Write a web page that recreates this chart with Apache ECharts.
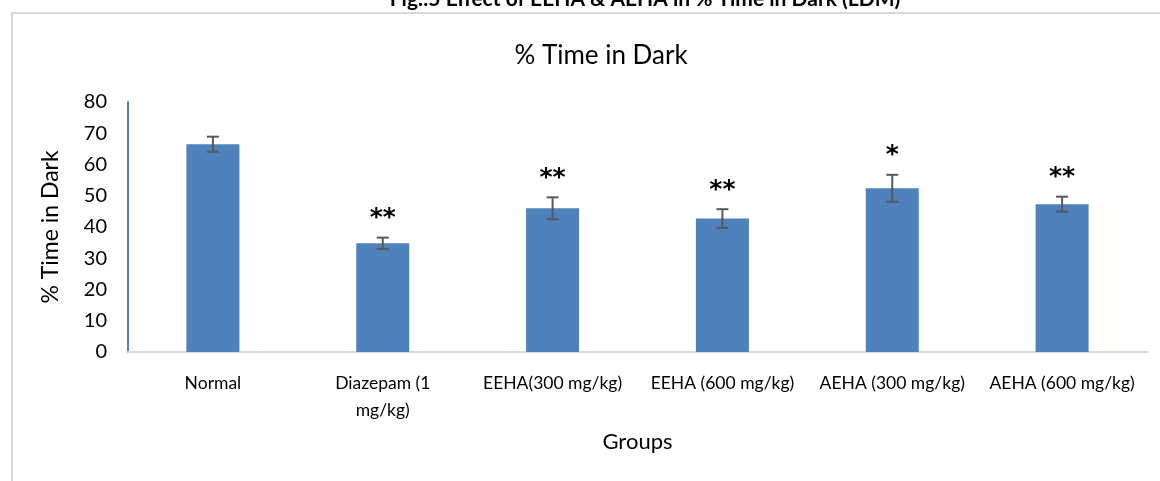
<!DOCTYPE html>
<html>
<head>
<meta charset="utf-8">
<script src="https://cdn.jsdelivr.net/npm/echarts@6/dist/echarts.min.js"></script>
<style>
  html, body { margin: 0; padding: 0; background: #fff; }
  #chart { width: 1160px; height: 481px; }
</style>
</head>
<body>
<div id="chart"></div>
<script>
const groups = [
  "Normal",
  "Diazepam (1\nmg/kg)",
  "EEHA(300 mg/kg)",
  "EEHA (600 mg/kg)",
  "AEHA (300 mg/kg)",
  "AEHA (600 mg/kg)",
];
const timeInDark = [66.5, 34.8, 46.0, 42.7, 52.4, 47.3];
const errors = [2.4, 1.8, 3.5, 3.0, 4.3, 2.4];
const significance = ["", "**", "**", "**", "*", "**"];
const yTicks = [0, 10, 20, 30, 40, 50, 60, 70, 80];

const barColor = "#4f81bd";
const errColor = "#595959";
const fontFamily = "Lato, 'Liberation Sans', Arial, sans-serif";

const chart = echarts.init(document.getElementById("chart"));

const errorData = timeInDark.map((v, i) => [i, v, errors[i]]);

chart.setOption({
  animation: false,
  title: [
    {
      text: "Fig.:5 Effect of EEHA & AEHA in % Time in Dark (LDM)",
      left: 640,
      textAlign: "center",
      top: -16,
      textStyle: { fontFamily, fontSize: 21, fontWeight: "bold", color: "#000" },
    },
    {
      text: "% Time in Dark",
      left: 596,
      textAlign: "center",
      top: 38,
      textStyle: { fontFamily, fontSize: 26, fontWeight: "normal", color: "#000" },
    },
  ],
  graphic: [
    {
      type: "rect",
      shape: { x: 12, y: 13, width: 1300, height: 600 },
      style: { fill: "none", stroke: "#d9d9d9", lineWidth: 2 },
      silent: true,
    },
  ],
  grid: { left: 128, right: 13, top: 102, bottom: 129 },
  xAxis: {
    type: "category",
    data: groups,
    name: "Groups",
    nameLocation: "middle",
    nameGap: 79,
    nameTextStyle: { fontFamily, fontSize: 22, color: "#000" },
    axisLine: { lineStyle: { color: "#d9d9d9", width: 2 } },
    axisTick: { show: false },
    axisLabel: {
      fontFamily,
      fontSize: 17.5,
      color: "#000",
      margin: 18,
      lineHeight: 27,
      interval: 0,
    },
  },
  yAxis: {
    type: "value",
    min: yTicks[0],
    max: yTicks[yTicks.length - 1],
    interval: 10,
    name: "% Time in Dark",
    nameLocation: "middle",
    nameGap: 66,
    nameTextStyle: { fontFamily, fontSize: 23, color: "#000" },
    axisLine: { show: true, lineStyle: { color: barColor, width: 2 } },
    axisTick: { show: false },
    splitLine: { show: false },
    axisLabel: { fontFamily, fontSize: 20, color: "#000", margin: 21 },
  },
  series: [
    {
      type: "bar",
      data: timeInDark,
      barWidth: 53,
      itemStyle: { color: barColor },
      z: 2,
    },
    {
      type: "custom",
      data: errorData,
      z: 5,
      renderItem: (params, api) => {
        const x = api.value(0);
        const mean = api.value(1);
        const err = api.value(2);
        const mark = significance[params.dataIndex];
        const top = api.coord([x, mean + err]);
        const bottom = api.coord([x, mean - err]);
        const cap = 6;
        const lineStyle = { stroke: errColor, lineWidth: 2 };
        const children = [
          { type: "line", shape: { x1: top[0], y1: top[1], x2: bottom[0], y2: bottom[1] }, style: lineStyle },
          { type: "line", shape: { x1: top[0] - cap, y1: top[1], x2: top[0] + cap, y2: top[1] }, style: lineStyle },
          { type: "line", shape: { x1: bottom[0] - cap, y1: bottom[1], x2: bottom[0] + cap, y2: bottom[1] }, style: lineStyle },
        ];
        if (mark) {
          children.push({
            type: "text",
            style: {
              x: top[0],
              y: top[1] - 19,
              text: mark,
              fill: "#000",
              font: "bold 25px 'DejaVu Sans', sans-serif",
              textAlign: "center",
              textVerticalAlign: "middle",
            },
          });
        }
        return { type: "group", children };
      },
    },
  ],
});
</script>
</body>
</html>
